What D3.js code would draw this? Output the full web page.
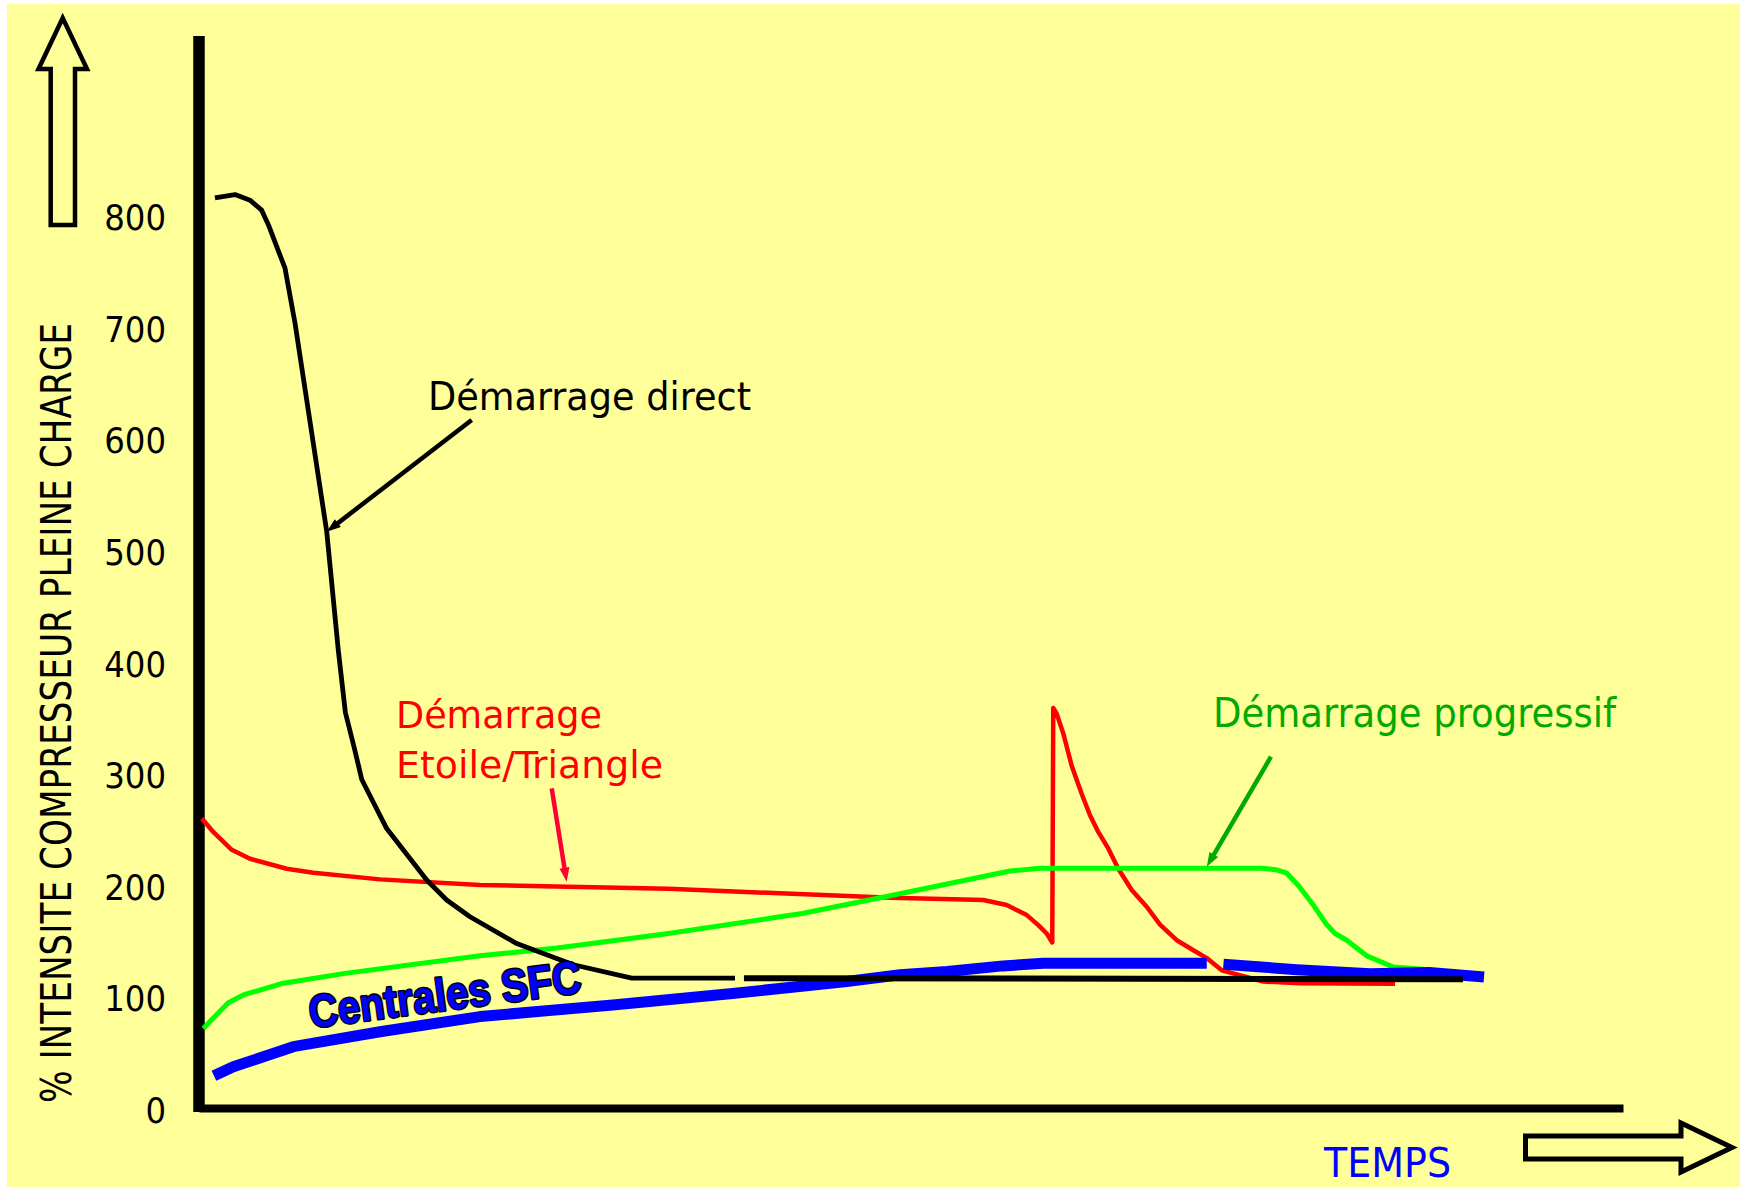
<!DOCTYPE html>
<html>
<head>
<meta charset="utf-8">
<script src="https://cdn.jsdelivr.net/npm/d3@7"></script>
<style>
  html, body { margin: 0; padding: 0; background: #ffffff; }
  svg { display: block; }
  .cond { font-family: "DejaVu Sans Condensed", "DejaVu Sans", sans-serif; font-stretch: condensed; }
</style>
</head>
<body>
<svg id="chart" width="1747" height="1193"></svg>
<script>
// Motor current at start-up (% of full-load compressor current) against time.
// Time is in arbitrary units (0-100 across the time axis).

const yTickValues = [0, 100, 200, 300, 400, 500, 600, 700, 800];

// Direct-on-line start: inrush then settling to nominal current
const directRamp = [
  [1.12, 818], [2.53, 821], [3.58, 816], [4.40, 807], [4.87, 794], [6.04, 755],
  [6.74, 706], [8.97, 519], [9.78, 413], [10.28, 357], [10.91, 325], [11.43, 297],
  [13.18, 253], [15.99, 207], [17.39, 189], [19.03, 174], [22.31, 150], [26.29, 131],
  [30.39, 119], [37.64, 119]
];
const directSteady = [[38.27, 119], [88.76, 118]];

// Star/delta start: reduced current, then a spike at the switch-over
const starDelta = [
  [0.2, 262], [1.00, 250], [2.30, 234], [3.58, 226], [6.16, 217], [8.03, 213.5],
  [12.71, 207.5], [19.73, 202.5], [25.91, 201], [32.97, 199], [40.80, 195], [48.60, 191],
  [55.08, 189], [56.72, 184.5], [58.13, 175.5], [58.94, 166.5], [59.53, 159], [59.92, 151],
  [59.99, 361], [60.23, 356], [60.70, 338], [61.29, 309], [61.99, 284], [62.57, 265],
  [63.15, 250], [63.86, 235], [64.56, 217], [65.50, 198], [66.55, 183], [67.49, 167],
  [68.66, 153], [69.83, 144], [70.77, 137], [71.82, 126], [74.74, 116], [77.32, 114.5],
  [83.99, 114]
];

// Soft starter: limited ramp then plateau
const softStart = [
  [0.3, 74], [2.06, 97], [3.11, 104], [5.92, 114.5], [10.37, 123.5], [19.73, 139],
  [25.14, 146], [32.97, 159], [40.80, 174], [42.36, 177], [48.62, 193], [56.95, 215],
  [59.06, 217.5], [74.63, 217.5], [75.69, 216], [76.39, 213], [77.20, 202], [78.25, 184.5],
  [79.19, 167], [79.78, 159], [80.60, 153], [82.00, 139], [83.87, 129], [85.98, 127]
];

// SFC units (variable speed): current never exceeds nominal
const sfcRamp = [
  [1.05, 31.5], [2.41, 39.7], [4.52, 48.6], [6.62, 57.6], [12.71, 71], [19.73, 84.6],
  [29.06, 95], [37.64, 105.5], [45.49, 116], [49.23, 122], [52.53, 125], [56.45, 130],
  [59.29, 132.3], [70.77, 132.3]
];
const sfcRun = [[71.94, 131.5], [77.09, 126.6], [82.23, 123], [86.4, 124], [90.24, 120]];

// Callout arrows: [from, to] in data units
const calloutDirect = [[19.15, 619], [8.97, 519]];
const calloutStarDelta = [[24.77, 289], [25.82, 205.4]];
const calloutSoft = [[75.28, 317.4], [70.77, 218.9]];

const svg = d3.select("#chart");

const x = d3.scaleLinear().domain([0, 100]).range([199, 1623]);
const y = d3.scaleLinear().domain([0, 800]).range([1111, 218]);

// page panel
svg.append("rect")
  .attr("x", 7).attr("y", 4).attr("width", 1733).attr("height", 1183)
  .attr("fill", "#FFFF99");

// value axis
const yAxis = d3.axisLeft(y).tickValues(yTickValues).tickSize(0).tickPadding(33);
const gy = svg.append("g").attr("transform", `translate(${x(0)},0)`).call(yAxis);
gy.select(".domain").remove();
gy.selectAll("text")
  .attr("class", "cond")
  .attr("font-size", 36)
  .attr("fill", "#000");

// time axis
const xAxis = d3.axisBottom(x).ticks(0).tickSizeOuter(0);
const gx = svg.append("g").attr("transform", `translate(0,${y(0) - 3})`).call(xAxis);
gx.select(".domain").attr("stroke", "#000").attr("stroke-width", 8);

// vertical axis bar, extended above the top tick
svg.append("line")
  .attr("x1", x(0)).attr("x2", x(0))
  .attr("y1", 36).attr("y2", y(0) + 1)
  .attr("stroke", "#000").attr("stroke-width", 11.5);

const line = d3.line().x(d => x(d[0])).y(d => y(d[1])).curve(d3.curveLinear);

function drawSeries(data, color, width, cap) {
  svg.append("path")
    .attr("d", line(data))
    .attr("fill", "none")
    .attr("stroke", color)
    .attr("stroke-width", width)
    .attr("stroke-linejoin", "round")
    .attr("stroke-linecap", cap || "butt");
}

drawSeries(starDelta, "#FF0000", 4.5);
drawSeries(softStart, "#00FF00", 5);
drawSeries(sfcRamp, "#0000FF", 11);
drawSeries(sfcRun, "#0000FF", 11);
drawSeries(directRamp, "#000000", 4.8);
drawSeries(directSteady, "#000000", 6);

// callout arrow: shaft plus a narrow filled head
function callout(pts, color, width) {
  const [x1, y1] = [x(pts[0][0]), y(pts[0][1])];
  const [x2, y2] = [x(pts[1][0]), y(pts[1][1])];
  const dx = x2 - x1, dy = y2 - y1, len = Math.hypot(dx, dy);
  const ux = dx / len, uy = dy / len;
  const headLen = 14, headHalf = 5;
  const bx = x2 - ux * headLen, by = y2 - uy * headLen;
  svg.append("line")
    .attr("x1", x1).attr("y1", y1).attr("x2", bx + ux * 2).attr("y2", by + uy * 2)
    .attr("stroke", color).attr("stroke-width", width);
  svg.append("path")
    .attr("d", `M${x2},${y2} L${bx - uy * headHalf},${by + ux * headHalf} L${bx + uy * headHalf},${by - ux * headHalf} Z`)
    .attr("fill", color);
}
callout(calloutDirect, "#000000", 4.5);
callout(calloutStarDelta, "#FF0033", 4.5);
callout(calloutSoft, "#00AA00", 4.5);

// labels
function label(txt, px, py, size, color, len) {
  svg.append("text")
    .attr("class", "cond")
    .attr("x", px).attr("y", py)
    .attr("font-size", size)
    .attr("fill", color)
    .attr("textLength", len)
    .attr("lengthAdjust", "spacingAndGlyphs")
    .text(txt);
}
label("Démarrage direct", 428, 410, 39, "#000000", 323);
label("Démarrage", 396, 728, 37, "#FF0000", 206);
label("Etoile/Triangle", 396, 778, 37, "#FF0000", 267);
label("Démarrage progressif", 1213, 727, 41, "#00AA00", 403);
label("TEMPS", 1324, 1177, 40, "#0000FF", 127);

// axis title
svg.append("text")
  .attr("class", "cond")
  .attr("transform", "translate(71,713) rotate(-90)")
  .attr("text-anchor", "middle")
  .attr("font-size", 42)
  .attr("fill", "#000")
  .attr("textLength", 780)
  .attr("lengthAdjust", "spacingAndGlyphs")
  .text("% INTENSITE COMPRESSEUR PLEINE CHARGE");

// SFC tag along its curve: blue fill with a thin dark outline
svg.append("text")
  .attr("transform", "translate(311,1028) rotate(-7.5)")
  .attr("font-family", "'Liberation Sans', Arial, sans-serif")
  .attr("font-weight", "bold")
  .attr("font-size", 46)
  .attr("fill", "#0000FF")
  .attr("stroke", "#000")
  .attr("stroke-width", 3)
  .attr("stroke-linejoin", "round")
  .attr("paint-order", "stroke")
  .attr("textLength", 274)
  .attr("lengthAdjust", "spacingAndGlyphs")
  .text("Centrales SFC");

// outline arrows for the two axes
svg.append("path")
  .attr("d", "M62.7,18 L87,69 L75,69 L75,225 L50.7,225 L50.7,69 L38.5,69 Z")
  .attr("fill", "none").attr("stroke", "#000").attr("stroke-width", 4.5)
  .attr("stroke-linejoin", "miter");
svg.append("path")
  .attr("d", "M1525.5,1136 L1681,1136 L1681,1123 L1732,1147.5 L1681,1172 L1681,1159 L1525.5,1159 Z")
  .attr("fill", "none").attr("stroke", "#000").attr("stroke-width", 5)
  .attr("stroke-linejoin", "miter");
</script>
</body>
</html>
